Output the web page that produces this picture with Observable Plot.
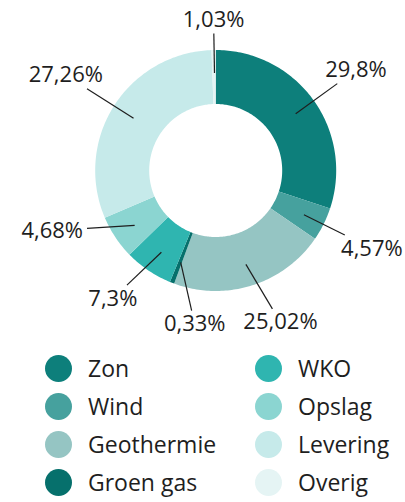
<!DOCTYPE html>
<html>
<head>
<meta charset="utf-8">
<script src="https://cdn.jsdelivr.net/npm/d3@7"></script>
<script src="https://cdn.jsdelivr.net/npm/@observablehq/plot@0.6"></script>
<style>
  html, body { margin: 0; padding: 0; background: #fff; overflow: hidden; }
  body { width: 405px; height: 502px; font-family: "Open Sans", sans-serif; color: #1e1e1e; }
  #legend {
    display: grid;
    grid-template-rows: repeat(4, 38px);
    grid-auto-flow: column;
    grid-template-columns: 210px 150px;
    padding-left: 44.5px;
    margin-top: 9px;
  }
  .item { display: flex; align-items: center; font-size: 23px; line-height: 1; color: #1e1e1e; }
  .sw { width: 27px; height: 27px; border-radius: 50%; margin-right: 16.5px; flex: none; }
</style>
</head>
<body>
<div id="chart"></div>
<div id="legend"></div>
<script>
// ---- data ----
const categories = ["Zon", "Wind", "Geothermie", "Groen gas", "WKO", "Opslag", "Levering", "Overig"];
// percentages printed on the chart
const labelValues = [29.8, 4.57, 25.02, 0.33, 7.3, 4.68, 27.26, 1.03];
// slice sizes as drawn in the picture (percent of the full ring)
const drawnShares = [30.1, 4.5, 21.0, 0.6, 6.5, 5.9, 30.85, 0.55];
const colors = ["#0d7f7b", "#46a19e", "#95c5c3", "#06706c", "#2fb5b0", "#8bd5d1", "#c6eaea", "#e5f4f4"];

// ---- layout ----
const W = 405, H = 340;
const cx = 215.7, cy = 170.5;
const Rout = 120.5, Rin = 66.5;
const rLead1 = 98;      // leader start (inside the ring)
const rLabel = 143;     // base radius for label boxes
const minSep = 31 * Math.PI / 180; // minimal angular gap between labels
const fontSize = 22, textH = 15, gap = 4;
const FONT = "Open Sans";

const fmt = v => String(v).replace(".", ",") + "%";
const ctx = document.createElement("canvas").getContext("2d");
ctx.font = `${fontSize}px "${FONT}"`;
const textWidth = s => ctx.measureText(s).width;

const total = d3.sum(drawnShares);
const arcRows = [];
const mids = [];
let acc = 0;
categories.forEach((cat, i) => {
  const a0 = acc / total * 2 * Math.PI;
  acc += drawnShares[i];
  const a1 = acc / total * 2 * Math.PI;
  const n = Math.max(2, Math.ceil((a1 - a0) / (Math.PI / 180)));
  for (let k = 0; k <= n; k++) {
    const a = a0 + (a1 - a0) * k / n;
    const s = Math.sin(a), c = Math.cos(a);
    arcRows.push({cat, xo: Rout * s, yo: -Rout * c, xi: Rin * s, yi: -Rin * c});
  }
  mids.push((a0 + a1) / 2);
});

// spread label angles so neighbouring labels keep a minimal angular gap
let groups = mids.map((a, i) => ({idx: [i], mean: a}));
const place = g => g.idx.map((_, k) => g.mean + (k - (g.idx.length - 1) / 2) * minSep);
let merged = true;
while (merged) {
  merged = false;
  for (let j = 0; j < groups.length - 1; j++) {
    const A = place(groups[j]), B = place(groups[j + 1]);
    if (A[A.length - 1] + minSep > B[0] + 1e-9) {
      const idx = groups[j].idx.concat(groups[j + 1].idx);
      groups.splice(j, 2, {idx, mean: d3.mean(idx, i => mids[i])});
      merged = true;
      break;
    }
  }
}
const labelAngle = [];
groups.forEach(g => place(g).forEach((a, k) => { labelAngle[g.idx[k]] = a; }));

const leaderRows = [];
const labelRows = [];
categories.forEach((cat, i) => {
  const text = fmt(labelValues[i]);
  const w = textWidth(text);
  const la = labelAngle[i];
  const s = Math.sin(la), c = Math.cos(la);
  const dist = rLabel + Math.abs(s) * w / 2 + Math.abs(c) * textH / 2;
  let lx = dist * s, ly = -dist * c;
  // keep the label inside the svg
  lx = Math.min(Math.max(lx, -cx + w / 2 + 1), W - cx - w / 2 - 1);
  // leader: from inside the slice towards the label, stopping short of its box
  const am = mids[i];
  const px = rLead1 * Math.sin(am), py = -rLead1 * Math.cos(am);
  const dx = px - lx, dy = py - ly;
  const t = Math.min((w / 2 + gap) / Math.max(Math.abs(dx), 1e-6), (textH / 2 + gap + 2) / Math.max(Math.abs(dy), 1e-6));
  leaderRows.push({cat, x1: px, y1: py, x2: lx + t * dx, y2: ly + t * dy});
  labelRows.push({cat, text, x: lx, y: ly});
});

const chart = Plot.plot({
  width: W,
  height: H,
  margin: 0,
  style: {fontFamily: FONT, background: "transparent"},
  x: {type: "linear", domain: [-cx, W - cx], range: [0, W], axis: null},
  y: {type: "linear", domain: [-cy, H - cy], range: [0, H], axis: null},
  color: {domain: categories, range: colors},
  marks: [
    Plot.area(arcRows, {x1: "xi", y1: "yi", x2: "xo", y2: "yo", z: "cat", fill: "cat", curve: "linear"}),
    Plot.link(leaderRows, {x1: "x1", y1: "y1", x2: "x2", y2: "y2", stroke: "#1e1e1e", strokeWidth: 1.2}),
    Plot.text(labelRows, {x: "x", y: "y", text: "text", fontSize, fill: "#1e1e1e", textAnchor: "middle", lineAnchor: "middle"})
  ]
});
document.getElementById("chart").appendChild(chart);

const legend = document.getElementById("legend");
categories.forEach((cat, i) => {
  const item = document.createElement("div");
  item.className = "item";
  const sw = document.createElement("span");
  sw.className = "sw";
  sw.style.background = colors[i];
  const lab = document.createElement("span");
  lab.textContent = cat;
  item.appendChild(sw);
  item.appendChild(lab);
  legend.appendChild(item);
});
</script>
</body>
</html>
